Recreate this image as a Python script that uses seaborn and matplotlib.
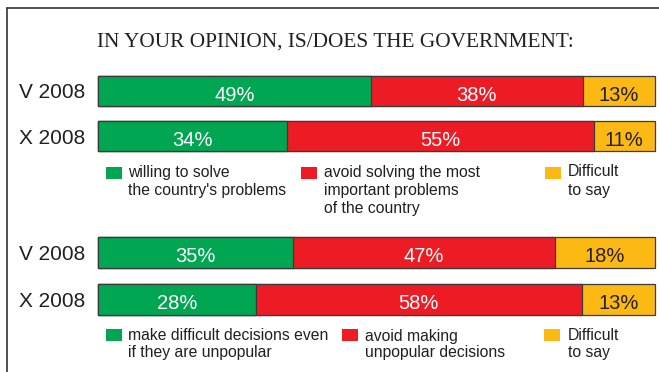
import matplotlib
matplotlib.use("Agg")
import matplotlib.pyplot as plt
from matplotlib.patches import Rectangle
from matplotlib.lines import Line2D
import pandas as pd
import seaborn as sns

title = "IN YOUR OPINION, IS/DOES THE GOVERNMENT:"
periods = ["V 2008", "X 2008"]

# Question 1: willing to solve the country's problems?
q1_willing = [49, 34]
q1_avoid = [38, 55]
q1_unsure = [13, 11]
q1_legend = ["willing to solve\nthe country's problems",
             "avoid solving the most\nimportant problems\nof the country",
             "Difficult\nto say"]

# Question 2: make difficult decisions?
q2_willing = [35, 28]
q2_avoid = [47, 58]
q2_unsure = [18, 13]
q2_legend = ["make difficult decisions even\nif they are unpopular",
             "avoid making\nunpopular decisions",
             "Difficult\nto say"]

colors = ["#00A651", "#ED1C24", "#FDB913"]
value_colors = ["white", "white", "#231F20"]
edge = "#3A3A3A"
ink = "#231F20"

sns.set_style("white")
plt.rcParams["font.family"] = ["Liberation Sans", "DejaVu Sans"]

W, H = 659, 372
fig = plt.figure(figsize=(W / 100, H / 100), dpi=100)


def fx(x):
    return x / W


def fy(y):
    return 1 - y / H


def draw_block(top, bottom, willing, avoid, unsure):
    ax = fig.add_axes([fx(98), fy(bottom), (655 - 98) / W, (bottom - top) / H])
    df = pd.DataFrame({"period": periods, "willing": willing,
                       "avoid": avoid, "unsure": unsure})
    total = df[["willing", "avoid", "unsure"]].sum(axis=1)
    df["c1"] = df["willing"] / total
    df["c2"] = (df["willing"] + df["avoid"]) / total
    df["c3"] = (df["willing"] + df["avoid"] + df["unsure"]) / total
    # stacked bars drawn back to front as cumulative shares
    for col, color in zip(["c3", "c2", "c1"], colors[::-1]):
        sns.barplot(data=df, x=col, y="period", order=periods, orient="h",
                    color=color, saturation=1, width=0.68, edgecolor=edge,
                    linewidth=0.9, errorbar=None, ax=ax)
    for p in ax.patches:
        p.set_clip_on(False)
    for i, row in df.iterrows():
        starts = [0, row["c1"], row["c2"]]
        ends = [row["c1"], row["c2"], row["c3"]]
        vals = [row["willing"], row["avoid"], row["unsure"]]
        for s, e, v, tc in zip(starts, ends, vals, value_colors):
            ax.annotate(f"{v}%", xy=((s + e) / 2, i), xytext=(0, -7),
                        textcoords="offset points", ha="center",
                        va="baseline", fontsize=14.5, color=tc)
    ax.set_xlim(0, 1)
    ax.set_ylim(1.5, -0.5)
    ax.set_xlabel("")
    ax.set_ylabel("")
    ax.set_xticks([])
    ax.tick_params(axis="y", length=0, pad=9, labelsize=15, labelcolor=ink)
    for sp in ax.spines.values():
        sp.set_visible(False)
    ax.patch.set_alpha(0)
    return ax


def draw_legend(labels, sq_xs, txt_xs, sq_top, baseline, spacing):
    for label, sx, tx, color in zip(labels, sq_xs, txt_xs, colors):
        fig.add_artist(Rectangle((fx(sx), fy(sq_top + 12)), 16 / W, 12 / H,
                                 transform=fig.transFigure,
                                 facecolor=color, edgecolor="none"))
        for j, line in enumerate(label.split("\n")):
            fig.text(fx(tx), fy(baseline + j * spacing), line, ha="left",
                     va="baseline", fontsize=11.3, color=ink)


# outer frame (left and top edges)
fig.add_artist(Line2D([fx(7), fx(7)], [fy(8), fy(H + 5)], color="#333333",
                      lw=1.2, transform=fig.transFigure))
fig.add_artist(Line2D([fx(7), fx(W + 5)], [fy(8), fy(8)], color="#333333",
                      lw=1.2, transform=fig.transFigure))

fig.text(fx(335), fy(47), title, ha="center", va="baseline",
         family=["Liberation Serif", "DejaVu Serif"], fontsize=15.3, color=ink)

draw_block(68.5, 158.5, q1_willing, q1_avoid, q1_unsure)
draw_legend(q1_legend, [106, 301, 545], [128, 324, 568], 167, 176.5, 18)

draw_block(229, 323, q2_willing, q2_avoid, q2_unsure)
draw_legend(q2_legend, [106, 342, 544], [128, 365, 568], 329, 340.5, 17)

fig.savefig("out.png", dpi=100, facecolor="white")
